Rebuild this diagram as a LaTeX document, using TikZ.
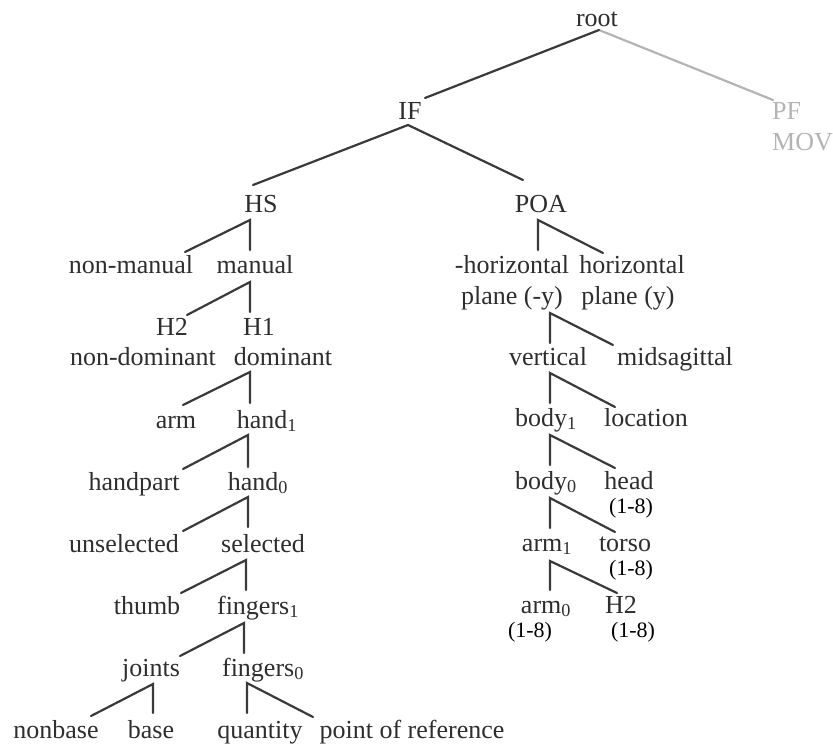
\documentclass[tikz,border=0pt]{standalone}
\usepackage{fontspec}
\setmainfont{Liberation Serif}
\definecolor{ink}{HTML}{2E2E2E}
\definecolor{lineink}{HTML}{3A3A3A}
\definecolor{faint}{HTML}{B4B4B4}
\tikzset{
  lbl/.style={inner sep=0pt, anchor=base, text=ink, font=\fontsize{26}{30}\selectfont},
  lblgray/.style={lbl, anchor=base west, text=faint},
  note/.style={inner sep=0pt, anchor=base, text=black, font=\fontsize{22}{26}\selectfont},
  edge/.style={draw=lineink, line width=2.2pt, line cap=round, line join=miter},
  grayedge/.style={draw=faint, line width=2.2pt, line cap=round}
}
\begin{document}
\begin{tikzpicture}[x=1pt,y=-1pt]
\useasboundingbox (0,0) rectangle (833,744);
% ---------- nodes ----------
\node[lbl] (root) at (597,27) {root};
\node[lbl] (IF) at (410,119) {IF};
\node[lblgray] (PF) at (772,119) {PF};
\node[lblgray] (MOV) at (772,150) {MOV};
\node[lbl] (HS) at (261,212) {HS};
\node[lbl] (POA) at (541,212) {POA};
% left branch
\node[lbl] (nonmanual) at (131,273) {non-manual};
\node[lbl] (manual) at (255,273) {manual};
\node[lbl] (Htwo) at (172,335) {H2};
\node[lbl] (Hone) at (259,335) {H1};
\node[lbl] (nondom) at (143,365) {non-dominant};
\node[lbl] (dom) at (283,365) {dominant};
\node[lbl] (arm) at (176,428) {arm};
\node[lbl] (handone) at (267,428) {hand\textsubscript{1}};
\node[lbl] (handpart) at (134,490) {handpart};
\node[lbl] (handzero) at (258,490) {hand\textsubscript{0}};
\node[lbl] (unsel) at (124,552) {unselected};
\node[lbl] (sel) at (263,552) {selected};
\node[lbl] (thumb) at (147,614) {thumb};
\node[lbl] (fingone) at (258,614) {fingers\textsubscript{1}};
\node[lbl] (joints) at (151,676) {joints};
\node[lbl] (fingzero) at (263,676) {fingers\textsubscript{0}};
\node[lbl] (nonbase) at (56,738) {nonbase};
\node[lbl] (base) at (151,738) {base};
\node[lbl] (quantity) at (260,738) {quantity};
\node[lbl] (por) at (412,738) {point of reference};
% right branch
\node[lbl] (nhor) at (512,273) {-horizontal};
\node[lbl] (hor) at (632,273) {horizontal};
\node[lbl] (nplane) at (512,304) {plane (-y)};
\node[lbl] (plane) at (628,304) {plane (y)};
\node[lbl] (vertical) at (548,365) {vertical};
\node[lbl] (midsag) at (675,365) {midsagittal};
\node[lbl] (bodyone) at (546,426) {body\textsubscript{1}};
\node[lbl] (location) at (646,426) {location};
\node[lbl] (bodyzero) at (546,489) {body\textsubscript{0}};
\node[lbl] (head) at (629,489) {head};
\node[note] (headn) at (631,513) {(1-8)};
\node[lbl] (armone) at (547,551) {arm\textsubscript{1}};
\node[lbl] (torso) at (625,551) {torso};
\node[note] (torson) at (631,575) {(1-8)};
\node[lbl] (armzero) at (546,613) {arm\textsubscript{0}};
\node[lbl] (Htwob) at (621,613) {H2};
\node[note] (armzeron) at (530,637) {(1-8)};
\node[note] (Htwobn) at (633,637) {(1-8)};
% ---------- branch points ----------
\coordinate (aroot) at (599,30);
\coordinate (eIF) at (425,98);
\coordinate (ePF) at (773,100);
\coordinate (aIF) at (408,125);
\coordinate (eHS) at (253,185);
\coordinate (ePOA) at (523,180);
\coordinate (aHS) at (250,220);
\coordinate (eman) at (250,250);
\coordinate (enonman) at (185,252);
\coordinate (aPOA) at (538,220);
\coordinate (enhor) at (538,250);
\coordinate (ehor) at (603,253);
\coordinate (aman) at (250,282);
\coordinate (eHone) at (250,312);
\coordinate (eHtwo) at (187,315);
\coordinate (anplane) at (550,313);
\coordinate (evert) at (550,343);
\coordinate (emid) at (613,345);
\coordinate (adom) at (250,372);
\coordinate (ehandone) at (250,403);
\coordinate (earm) at (183,405);
\coordinate (avert) at (550,373);
\coordinate (ebodyone) at (550,403);
\coordinate (eloc) at (615,407);
\coordinate (ahandone) at (248,435);
\coordinate (ehandzero) at (248,467);
\coordinate (ehandpart) at (183,469);
\coordinate (abodyone) at (550,435);
\coordinate (ebodyzero) at (550,465);
\coordinate (ehead) at (615,468);
\coordinate (ahandzero) at (248,497);
\coordinate (esel) at (248,527);
\coordinate (eunsel) at (183,531);
\coordinate (abodyzero) at (550,498);
\coordinate (earmone) at (550,528);
\coordinate (etorso) at (615,532);
\coordinate (asel) at (246,560);
\coordinate (efingone) at (246,590);
\coordinate (ethumb) at (181,593);
\coordinate (aarmone) at (550,561);
\coordinate (earmzero) at (550,590);
\coordinate (eHtwob) at (617,593);
\coordinate (afingone) at (244,623);
\coordinate (efingzero) at (244,653);
\coordinate (ejoints) at (180,656);
\coordinate (ajoints) at (153,684);
\coordinate (ebase) at (153,713);
\coordinate (enonbase) at (91,716);
\coordinate (afingzero) at (247,683);
\coordinate (equant) at (247,713);
\coordinate (epor) at (313,717);
% ---------- connectors ----------
\draw[grayedge] (aroot) -- (ePF);
\draw[edge] (aroot) -- (eIF);
\draw[edge] (eHS) -- (aIF) -- (ePOA);
\draw[edge] (enonman) -- (aHS) -- (eman);
\draw[edge] (enhor) -- (aPOA) -- (ehor);
\draw[edge] (eHtwo) -- (aman) -- (eHone);
\draw[edge] (evert) -- (anplane) -- (emid);
\draw[edge] (earm) -- (adom) -- (ehandone);
\draw[edge] (ebodyone) -- (avert) -- (eloc);
\draw[edge] (ehandpart) -- (ahandone) -- (ehandzero);
\draw[edge] (ebodyzero) -- (abodyone) -- (ehead);
\draw[edge] (eunsel) -- (ahandzero) -- (esel);
\draw[edge] (earmone) -- (abodyzero) -- (etorso);
\draw[edge] (ethumb) -- (asel) -- (efingone);
\draw[edge] (earmzero) -- (aarmone) -- (eHtwob);
\draw[edge] (ejoints) -- (afingone) -- (efingzero);
\draw[edge] (enonbase) -- (ajoints) -- (ebase);
\draw[edge] (equant) -- (afingzero) -- (epor);
\end{tikzpicture}
\end{document}
